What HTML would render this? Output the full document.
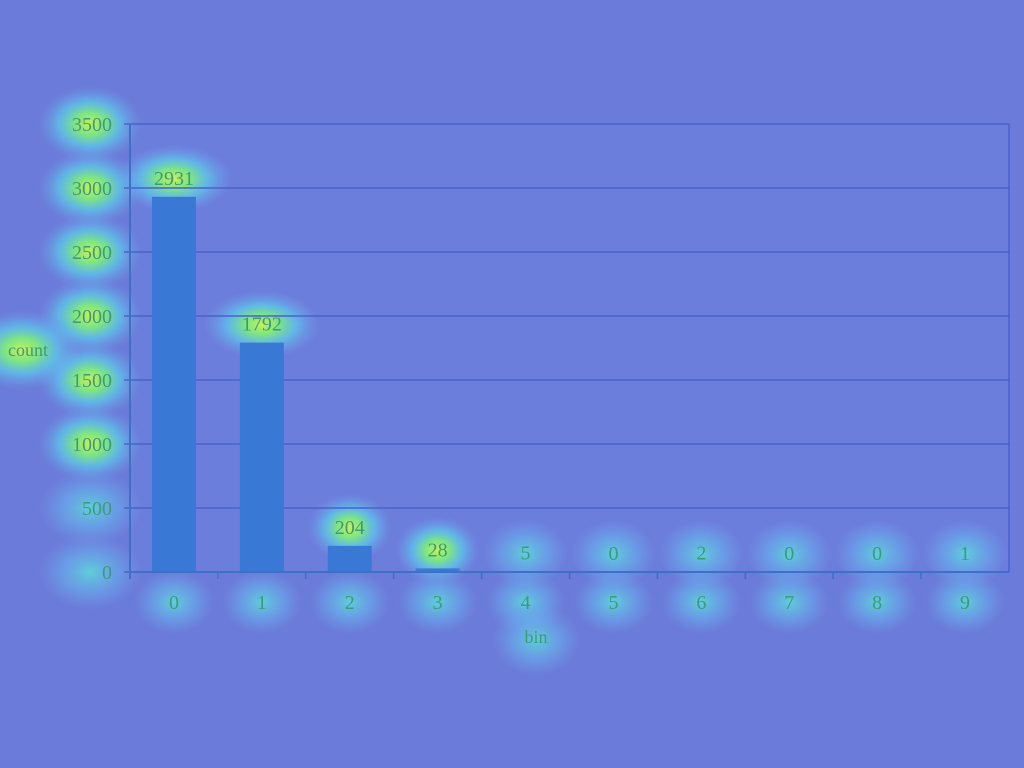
<!DOCTYPE html>
<html><head><meta charset="utf-8"><style>
html,body{margin:0;padding:0;background:#6b7bd9;}
svg{display:block;font-family:"Liberation Serif",serif;}
</style></head><body>
<svg id="chart" width="1024" height="768" viewBox="0 0 1024 768">
<defs>
<radialGradient id="glow">
<stop offset="0" stop-color="#c8f05a" stop-opacity="1"/>
<stop offset="0.3" stop-color="#7ef07a" stop-opacity="0.9"/>
<stop offset="0.6" stop-color="#5ad8f0" stop-opacity="0.6"/>
<stop offset="1" stop-color="#6fa8f0" stop-opacity="0"/>
</radialGradient>
<radialGradient id="glowSoft">
<stop offset="0" stop-color="#5cd8d8" stop-opacity="0.9"/>
<stop offset="0.55" stop-color="#66b8f0" stop-opacity="0.5"/>
<stop offset="1" stop-color="#6fa8f0" stop-opacity="0"/>
</radialGradient>
</defs>
<rect x="0" y="0" width="1024" height="768" fill="#6b7bd9"/>
<rect x="130" y="124" width="879" height="448" fill="#6e84e0" opacity="0.4"/>
<g id="glows"></g>
<g id="grid"></g>
<g id="bars"></g>
<g id="axes"></g>
<g id="labels"></g>
</svg>
<script>
const categories = ["0","1","2","3","4","5","6","7","8","9"];
const counts = [2931,1792,204,28,5,0,2,0,0,1];
const yTicks = [0,500,1000,1500,2000,2500,3000,3500];
const NS = "http://www.w3.org/2000/svg";
const X0 = 130, X1 = 1009, Y0 = 572, Y1 = 124, YMAX = 3500;
const band = (X1 - X0) / categories.length;
const y = v => Y0 - (v / YMAX) * (Y0 - Y1);
const xc = i => X0 + band * (i + 0.5);
function mk(tag, attrs, parent){const e=document.createElementNS(NS,tag);for(const k in attrs)e.setAttribute(k,attrs[k]);document.getElementById(parent).appendChild(e);return e;}
const TXT = "#3f9a78";
function glow(cx, cy, rx, ry, soft){mk("ellipse",{cx,cy,rx,ry,fill:soft?"url(#glowSoft)":"url(#glow)"},"glows");}

yTicks.forEach(t=>{
  const gy = y(t);
  const l = mk("line",{x1:X0-6,x2:X1,y1:gy,y2:gy,stroke:"#4a62c8","stroke-width":1.5},"grid");
  
  
  glow(90, gy, 52, 38, t===0||t===500);
  const tx = mk("text",{x:112,y:gy+7,"text-anchor":"end","font-size":20,fill:TXT},"labels");
  tx.textContent = t;
  
  
});

counts.forEach((v,i)=>{
  const cx = xc(i);
  const r = mk("rect",{x:cx-22,y:y(v),width:44,height:Y0-y(v),fill:"#3a78d6"},"bars");
  
  
  const ty = y(v) - 12;
  glow(cx, ty-6, v>1000?58:42, 34, v<10);
  const vt = mk("text",{x:cx,y:ty,"text-anchor":"middle","font-size":20,fill:TXT},"labels");
  vt.textContent = v;
  
  
  glow(cx, 602, 40, 32, true);
  const ct = mk("text",{x:cx,y:609,"text-anchor":"middle","font-size":20,fill:TXT},"labels");
  ct.textContent = categories[i];
  
  
  const tk = mk("line",{x1:X0+band*i,x2:X0+band*i,y1:Y0,y2:Y0+7,stroke:"#3f70c8","stroke-width":1.5},"axes");
  
  
});
const xa = mk("line",{x1:X0,x2:X1,y1:Y0,y2:Y0,stroke:"#3f70c8","stroke-width":2},"axes");


const ya = mk("line",{x1:X0,x2:X0,y1:Y1,y2:Y0+7,stroke:"#3f70c8","stroke-width":2},"axes");


const re = mk("line",{x1:X1,x2:X1,y1:Y1,y2:Y0,stroke:"#4a62c8","stroke-width":1.5},"axes");



glow(22, 350, 60, 40, false);
const yt = mk("text",{x:28,y:356,"text-anchor":"middle","font-size":18,fill:TXT},"labels");
yt.textContent = "count";


glow(536, 640, 44, 36, true);
const xt = mk("text",{x:536,y:643,"text-anchor":"middle","font-size":18,fill:TXT},"labels");
xt.textContent = "bin";


</script>
</body></html>
